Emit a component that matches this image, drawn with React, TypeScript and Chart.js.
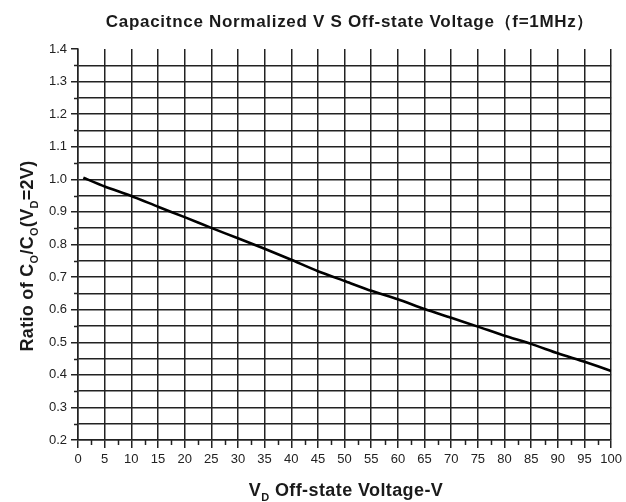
import React, { useEffect, useRef } from "react";
import { Chart, registerables } from "chart.js";

Chart.register(...registerables);

const voltage = [1, 5, 10, 15, 20, 25, 30, 35, 40, 45, 50, 55, 60, 65, 70, 75, 80, 85, 90, 95, 100];
const ratio = [1.005, 0.978, 0.949, 0.916, 0.884, 0.851, 0.819, 0.787, 0.753, 0.718, 0.688, 0.658, 0.632, 0.602, 0.575, 0.548, 0.52, 0.495, 0.466, 0.44, 0.412];

const titleText = "Capacitnce Normalized V S Off-state Voltage（f=1MHz）";
const xTitleParts = [
  { t: "V", sub: false },
  { t: "D", sub: true },
  { t: " Off-state Voltage-V", sub: false },
];
const yTitleParts = [
  { t: "Ratio of C", sub: false },
  { t: "O", sub: true },
  { t: "/C", sub: false },
  { t: "O", sub: true },
  { t: "(V", sub: false },
  { t: "D", sub: true },
  { t: "=2V)", sub: false },
];

const INK = "#222";
const FONT = '"Liberation Sans", Arial, sans-serif';

function drawParts(ctx: any, parts: { t: string; sub: boolean }[], cx: number, baseline: number, size: number, spacing: number) {
  const big = `bold ${size}px ${FONT}`;
  const small = `bold ${Math.round(size * 0.62)}px ${FONT}`;
  ctx.letterSpacing = `${spacing}px`;
  let total = 0;
  for (const p of parts) {
    ctx.font = p.sub ? small : big;
    total += ctx.measureText(p.t).width;
  }
  let x = cx - total / 2;
  ctx.textAlign = "left";
  ctx.textBaseline = "alphabetic";
  for (const p of parts) {
    ctx.font = p.sub ? small : big;
    ctx.fillText(p.t, x, p.sub ? baseline + size * 0.3 : baseline);
    x += ctx.measureText(p.t).width;
  }
  ctx.letterSpacing = "0px";
}

const textPlugin = {
  id: "customText",
  afterDraw(chart: any) {
    const ctx: any = chart.ctx;
    const xs = chart.scales.x;
    const ys = chart.scales.y;
    const area = chart.chartArea;
    ctx.save();
    // minor ticks
    ctx.strokeStyle = INK;
    ctx.lineWidth = 1.5;
    ctx.beginPath();
    for (let v = 2.5; v < 100; v += 5) {
      const px = Math.round(xs.getPixelForValue(v)) + 0.5;
      ctx.moveTo(px, area.bottom);
      ctx.lineTo(px, area.bottom + 5);
    }
    for (let k = 0; k < 12; k++) {
      const v = 0.25 + k * 0.1;
      const py = Math.round(ys.getPixelForValue(v)) + 0.5;
      ctx.moveTo(area.left - 4, py);
      ctx.lineTo(area.left, py);
    }
    ctx.stroke();

    ctx.fillStyle = "#1a1a1a";
    // main title
    ctx.font = `bold 17px ${FONT}`;
    ctx.letterSpacing = "0.7px";
    ctx.textAlign = "center";
    ctx.textBaseline = "middle";
    ctx.fillText(titleText, 350, 22);
    ctx.letterSpacing = "0px";
    // x title
    drawParts(ctx, xTitleParts, 346, 496, 18, 0.4);
    // y title
    ctx.translate(33, 256);
    ctx.rotate(-Math.PI / 2);
    drawParts(ctx, yTitleParts, 0, 0, 18, 0.3);
    ctx.restore();
  },
};

export default function App() {
  const ref = useRef<HTMLCanvasElement>(null);
  useEffect(() => {
    if (!ref.current) return;
    const chart = new Chart(ref.current, {
      type: "line",
      data: {
        datasets: [
          {
            data: voltage.map((v, i) => ({ x: v, y: ratio[i] })),
            borderColor: "#000",
            borderWidth: 2.6,
            pointRadius: 0,
            tension: 0.2,
            fill: false,
          },
        ],
      },
      options: {
        animation: false,
        responsive: false,
        events: [],
        layout: { padding: { top: 49, right: 13, left: 0, bottom: 0 } },
        plugins: { legend: { display: false }, title: { display: false }, tooltip: { enabled: false } },
        scales: {
          x: {
            type: "linear",
            min: 0,
            max: 100,
            ticks: { stepSize: 5, color: INK, font: { size: 13, family: FONT }, padding: 4, maxRotation: 0, autoSkip: false },
            grid: { color: INK, lineWidth: 1.5, tickLength: 8, tickColor: INK, tickWidth: 1.5 },
            border: { color: INK, width: 1.5 },
            afterFit: (s: any) => {
              s.height = 62;
            },
          },
          y: {
            type: "linear",
            min: 0.2,
            max: 1.4,
            ticks: {
              stepSize: 0.05,
              autoSkip: false,
              color: INK,
              font: { size: 13, family: FONT },
              padding: 4,
              callback: (v: any) => {
                const r = Math.round(Number(v) * 100);
                return r % 10 === 0 ? (r / 100).toFixed(1) : "";
              },
            },
            grid: {
              color: (c: any) => (c.tick && Math.abs(c.tick.value - 1.4) < 1e-6 ? "rgba(0,0,0,0)" : INK),
              lineWidth: 1.5,
              tickLength: 7,
              tickWidth: 1.5,
              tickColor: (c: any) => {
                const r = Math.round(c.tick.value * 100);
                return r % 10 === 0 ? INK : "rgba(0,0,0,0)";
              },
            },
            border: { color: INK, width: 1.5 },
            afterFit: (s: any) => {
              s.width = 78;
            },
          },
        },
      },
      plugins: [textPlugin],
    });
    return () => chart.destroy();
  }, []);
  return (
    <div style={{ position: "absolute", left: 0, top: 0, width: 626, height: 502, background: "#fff" }}>
      <canvas ref={ref} width={626} height={502} style={{ display: "block" }} />
    </div>
  );
}
